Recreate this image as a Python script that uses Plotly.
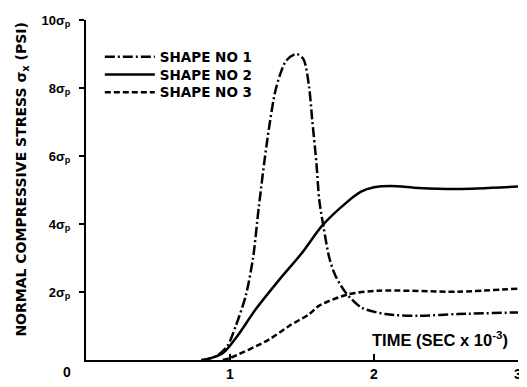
import plotly.graph_objects as go

# Time (sec x 10^-3) and stress (multiples of sigma_p)
shape1_t = [0.80, 0.90, 0.98, 1.04, 1.11, 1.16, 1.20, 1.26, 1.32, 1.39, 1.46, 1.51, 1.55, 1.57, 1.60, 1.62, 1.65, 1.69, 1.73, 1.80, 1.91, 2.08, 2.31, 2.58, 3.00]
shape1_s = [0.00, 0.10, 0.40, 1.00, 1.90, 3.00, 4.50, 6.50, 8.00, 8.80, 9.00, 8.85, 8.00, 7.10, 5.80, 4.70, 3.90, 3.00, 2.50, 2.00, 1.55, 1.35, 1.30, 1.35, 1.40]

shape2_t = [0.82, 0.95, 1.05, 1.18, 1.34, 1.50, 1.64, 1.80, 1.91, 2.00, 2.12, 2.31, 2.58, 3.00]
shape2_s = [0.00, 0.20, 0.70, 1.50, 2.35, 3.15, 3.95, 4.60, 4.95, 5.08, 5.12, 5.06, 5.03, 5.10]

shape3_t = [0.95, 1.00, 1.27, 1.41, 1.55, 1.62, 1.82, 2.03, 2.58, 3.00]
shape3_s = [0.00, 0.06, 0.60, 1.00, 1.35, 1.60, 1.93, 2.04, 2.01, 2.10]

x_tickvals = [1, 2, 3]
x_ticktext = ["1", "2", "3"]
y_tickvals = [2, 4, 6, 8, 10]
y_ticktext = ["2σ<sub>p</sub>", "4σ<sub>p</sub>", "6σ<sub>p</sub>", "8σ<sub>p</sub>", "10σ<sub>p</sub>"]

FONT = "Liberation Sans"
WIDE = "DejaVu Sans"

fig = go.Figure()
fig.add_trace(go.Scatter(x=shape1_t, y=shape1_s, mode="lines", name="SHAPE NO 1", legend="legend",
                         line=dict(color="black", width=2.5, dash="10px,3px,2px,3px", shape="spline", smoothing=0.8)))
fig.add_trace(go.Scatter(x=shape2_t, y=shape2_s, mode="lines", name="SHAPE NO 2", legend="legend2",
                         line=dict(color="black", width=2.5, shape="spline", smoothing=0.8)))
fig.add_trace(go.Scatter(x=shape3_t, y=shape3_s, mode="lines", name="SHAPE NO 3", legend="legend3",
                         line=dict(color="black", width=2.5, dash="6px,3px", shape="spline", smoothing=0.8)))

leg_common = dict(x=0.032, xanchor="left", yanchor="middle", bgcolor="rgba(0,0,0,0)",
                  font=dict(size=13.5, family=WIDE, weight="bold"), itemwidth=50,
                  borderwidth=0)

# page has an 8px body margin, so the figure is 8px smaller than the window
fig.update_layout(
    width=519, height=379,
    margin=dict(l=78, r=6, t=5, b=26),
    paper_bgcolor="white", plot_bgcolor="white",
    font=dict(family=FONT, color="black", size=12, weight="bold"),
    showlegend=True,
    legend=dict(y=0.891, **leg_common),
    legend2=dict(y=0.839, **leg_common),
    legend3=dict(y=0.787, **leg_common),
    xaxis=dict(range=[0, 3], tickvals=x_tickvals, ticktext=x_ticktext,
               showgrid=False, zeroline=False, showline=True, linecolor="black", linewidth=2,
               ticks="inside", ticklen=6, tickwidth=2, tickcolor="black",
               ticklabeloverflow="allow",
               tickfont=dict(size=14, family=FONT, weight="bold")),
    yaxis=dict(range=[0, 10], tickvals=y_tickvals, ticktext=y_ticktext,
               showgrid=False, zeroline=False, showline=True, linecolor="black", linewidth=2,
               ticks="outside", ticklen=5, tickwidth=2, tickcolor="black",
               ticklabelstandoff=6, ticklabeloverflow="allow",
               tickfont=dict(size=13, family=FONT, weight="bold")),
    annotations=[
        dict(text="NORMAL COMPRESSIVE STRESS σ<sub>x</sub> (PSI)", textangle=-90,
             xref="paper", yref="paper", x=-0.147, y=0.532, xanchor="center", yanchor="middle",
             showarrow=False, font=dict(size=14, family=WIDE, weight="bold")),
        dict(text="TIME (SEC x 10<sup>-3</sup>)", xref="x", yref="y", x=2.945, y=0.63,
             xanchor="right", yanchor="middle", showarrow=False,
             font=dict(size=16.5, family=FONT, weight="bold")),
        dict(text="0", xref="paper", yref="paper", x=-0.044, y=-0.0345, xanchor="center", yanchor="middle",
             showarrow=False, font=dict(size=14, family=FONT, weight="bold")),
    ],
)

fig.write_html("out.html")
